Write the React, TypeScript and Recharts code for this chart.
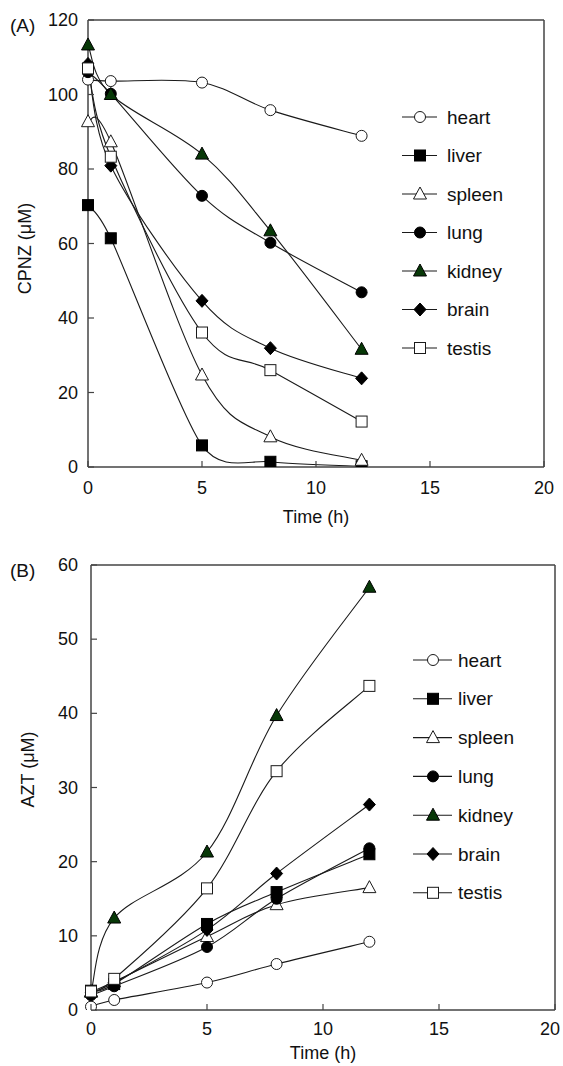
import React from 'react';
import { LineChart, Line, XAxis, YAxis, ReferenceLine, Legend } from 'recharts';

// ---------- data ----------
const times = [0, 1, 5, 8, 12];
const tissues = ['heart', 'liver', 'spleen', 'lung', 'kidney', 'brain', 'testis'];
const shapes = ['circleOpen', 'squareFilled', 'triangleOpen', 'circleFilled', 'triangleGreen', 'diamondFilled', 'squareOpen'];

const xTicks = [0, 5, 10, 15, 20];
const yTicksA = [0, 20, 40, 60, 80, 100, 120];
const yTicksB = [0, 10, 20, 30, 40, 50, 60];

// (A) CPNZ (µM)
const cpnzHeart = [104.0, 103.6, 103.2, 95.8, 88.9];
const cpnzLiver = [70.3, 61.4, 5.8, 1.4, 0.2];
const cpnzSpleen = [92.7, 87.3, 24.7, 8.1, 1.8];
const cpnzLung = [106.0, 100.2, 72.8, 60.2, 46.9];
const cpnzKidney = [113.3, 100.0, 84.0, 63.4, 31.6];
const cpnzBrain = [108.2, 80.9, 44.6, 31.9, 23.8];
const cpnzTestis = [107.0, 83.3, 36.1, 26.0, 12.2];

// (B) AZT (µM)
const aztHeart = [0.45, 1.35, 3.7, 6.2, 9.2];
const aztLiver = [2.6, 3.5, 11.6, 15.9, 21.0];
const aztSpleen = [2.5, 3.8, 9.9, 14.2, 16.5];
const aztLung = [2.0, 3.2, 8.5, 15.0, 21.8];
const aztKidney = [2.4, 12.4, 21.3, 39.7, 57.0];
const aztBrain = [2.3, 3.7, 10.8, 18.4, 27.7];
const aztTestis = [2.5, 4.2, 16.4, 32.2, 43.7];

const seriesA = [cpnzHeart, cpnzLiver, cpnzSpleen, cpnzLung, cpnzKidney, cpnzBrain, cpnzTestis];
const seriesB = [aztHeart, aztLiver, aztSpleen, aztLung, aztKidney, aztBrain, aztTestis];

const buildRows = (series: number[][]) =>
  times.map((t, i) => {
    const row: any = { time: t };
    tissues.forEach((name, k) => {
      row[name] = series[k][i];
    });
    return row;
  });

const dataA = buildRows(seriesA);
const dataB = buildRows(seriesB);

// ---------- styles ----------
const FONT = '"Liberation Sans", Arial, sans-serif';
const INK = '#1a1a1a';
const AXIS = '#444';
const GREEN = '#073807';

// Excel-like smoothed curve (Catmull-Rom through points)
const makeSmooth = (k: number) =>
  function smoothCurve(context: any) {
    let pts: number[][] = [];
    return {
      areaStart() {},
      areaEnd() {},
      lineStart() {
        pts = [];
      },
      point(x: number, y: number) {
        pts.push([+x, +y]);
      },
      lineEnd() {
        const n = pts.length;
        if (!n) return;
        context.moveTo(pts[0][0], pts[0][1]);
        for (let i = 0; i < n - 1; i++) {
          const p0 = pts[Math.max(i - 1, 0)];
          const p1 = pts[i];
          const p2 = pts[i + 1];
          const p3 = pts[Math.min(i + 2, n - 1)];
          context.bezierCurveTo(
            p1[0] + (p2[0] - p0[0]) / k,
            p1[1] + (p2[1] - p0[1]) / k,
            p2[0] - (p3[0] - p1[0]) / k,
            p2[1] - (p3[1] - p1[1]) / k,
            p2[0],
            p2[1]
          );
        }
      },
    };
  };
const smooth6 = makeSmooth(6);
const smooth8 = makeSmooth(8);

const Marker = ({ shape, cx, cy }: { shape: string; cx: number; cy: number }) => {
  const sw = 1;
  switch (shape) {
    case 'circleOpen':
      return <circle cx={cx} cy={cy} r={5.5} fill="#fff" stroke={INK} strokeWidth={sw} />;
    case 'circleFilled':
      return <circle cx={cx} cy={cy} r={5.5} fill="#000" stroke="#000" strokeWidth={sw} />;
    case 'squareFilled':
      return <rect x={cx - 5.5} y={cy - 5.5} width={11} height={11} fill="#000" stroke="#000" strokeWidth={sw} />;
    case 'squareOpen':
      return <rect x={cx - 5.5} y={cy - 5.5} width={11} height={11} fill="#fff" stroke={INK} strokeWidth={sw} />;
    case 'triangleOpen':
      return (
        <polygon
          points={`${cx},${cy - 7} ${cx - 6.5},${cy + 5} ${cx + 6.5},${cy + 5}`}
          fill="#fff"
          stroke={INK}
          strokeWidth={sw}
        />
      );
    case 'triangleGreen':
      return (
        <polygon
          points={`${cx},${cy - 7} ${cx - 6.5},${cy + 5} ${cx + 6.5},${cy + 5}`}
          fill={GREEN}
          stroke="#000"
          strokeWidth={sw}
        />
      );
    case 'diamondFilled':
      return (
        <polygon
          points={`${cx},${cy - 6.5} ${cx + 6},${cy} ${cx},${cy + 6.5} ${cx - 6},${cy}`}
          fill="#000"
          stroke="#000"
          strokeWidth={sw}
        />
      );
    default:
      return null;
  }
};

const makeXTick = (labelDy: number, maxX: number) => (props: any) => {
  const { x, y, payload } = props;
  const tx = Math.min(x, maxX);
  return (
    <g>
      <line x1={x} x2={x} y1={y} y2={y - 6} stroke={AXIS} strokeWidth={1.2} />
      <text x={tx} y={y + labelDy} textAnchor="middle" dominantBaseline="central" fontFamily={FONT} fontSize={18} fill="#111">
        {payload.value}
      </text>
    </g>
  );
};

const makeYTick = (gap: number) => (props: any) => {
  const { x, y, payload } = props;
  return (
    <g>
      <line x1={x} x2={x + 6} y1={y} y2={y} stroke={AXIS} strokeWidth={1.2} />
      <text x={x - gap} y={y} textAnchor="end" dominantBaseline="central" fontFamily={FONT} fontSize={18} fill="#111">
        {payload.value}
      </text>
    </g>
  );
};

const makeYTitle = (title: string, panel: string, dy: number) => (props: any) => {
  const vb = props.viewBox || {};
  const cx = vb.x - 3;
  const cy = vb.y + vb.height / 2 + dy;
  return (
    <g>
      <text
        x={cx}
        y={cy}
        transform={`rotate(-90 ${cx} ${cy})`}
        textAnchor="middle"
        dominantBaseline="central"
        fontFamily={FONT}
        fontSize={18}
        fill="#111"
      >
        {title}
      </text>
      <text x={10} y={vb.y + 5} textAnchor="start" dominantBaseline="central" fontFamily={FONT} fontSize={19} fill="#111">
        {panel}
      </text>
    </g>
  );
};

const makeXTitle = (title: string, dy: number) => (props: any) => {
  const vb = props.viewBox || {};
  return (
    <text
      x={vb.x + vb.width / 2}
      y={vb.y + dy}
      textAnchor="middle"
      dominantBaseline="central"
      fontFamily={FONT}
      fontSize={18}
      fill="#111"
    >
      {title}
    </text>
  );
};

const makeLegend = (lx1: number, lx2: number, mx: number, tx: number, y0: number, gap: number) => () => (
  <svg width={150} height={290} style={{ display: 'block', overflow: 'visible' }}>
    {tissues.map((t, i) => {
      const y = y0 + i * gap;
      return (
        <g key={t}>
          <line x1={lx1} x2={lx2} y1={y} y2={y} stroke={INK} strokeWidth={1.1} />
          <Marker shape={shapes[i]} cx={mx} cy={y} />
          <text x={tx} y={y} dominantBaseline="central" fontFamily={FONT} fontSize={19} fill="#111">
            {t}
          </text>
        </g>
      );
    })}
  </svg>
);

type PanelProps = {
  data: any[];
  width: number;
  height: number;
  margin: any;
  yDomain: number[];
  yTicks: number[];
  yTitle: string;
  panel: string;
  yTitleDy: number;
  yGap: number;
  xLabelDy: number;
  xTitleDy: number;
  legend: () => React.ReactElement;
  legendPos: { left: number; top: number };
  curves: any[];
};

const Panel = (p: PanelProps) => (
  <LineChart width={p.width} height={p.height} data={p.data} margin={p.margin}>
    <XAxis
      dataKey="time"
      type="number"
      domain={[0, 20]}
      ticks={xTicks}
      tickSize={0}
      tickMargin={0}
      tickLine={false}
      tick={makeXTick(p.xLabelDy, p.width - 13)}
      axisLine={{ stroke: AXIS, strokeWidth: 1.5 }}
      height={40}
      interval={0}
      allowDecimals={false}
      label={makeXTitle('Time (h)', p.xTitleDy)}
    />
    <YAxis
      type="number"
      domain={p.yDomain}
      ticks={p.yTicks}
      tickSize={0}
      tickMargin={0}
      tickLine={false}
      tick={makeYTick(p.yGap)}
      axisLine={{ stroke: AXIS, strokeWidth: 1.5 }}
      width={60}
      interval={0}
      allowDataOverflow
      label={makeYTitle(p.yTitle, p.panel, p.yTitleDy)}
    />
    <ReferenceLine y={p.yDomain[1]} stroke={AXIS} strokeWidth={1.5} />
    <ReferenceLine x={20} stroke={AXIS} strokeWidth={1.5} />
    <Legend
      layout="horizontal"
      align="center"
      verticalAlign="middle"
      content={p.legend}
      wrapperStyle={{ left: p.legendPos.left, top: p.legendPos.top, width: 150, height: 290 }}
    />
    {tissues.map((name, k) => (
      <Line
        key={name}
        dataKey={name}
        type={p.curves[k]}
        stroke={INK}
        strokeWidth={1.1}
        isAnimationActive={false}
        activeDot={false}
        legendType="none"
        dot={(d: any) => <Marker key={`${name}-${d.index}`} shape={shapes[k]} cx={d.cx} cy={d.cy} />}
      />
    ))}
  </LineChart>
);

export default function App() {
  return (
    <div style={{ position: 'absolute', left: 0, top: 0, width: 563, height: 1066, background: '#fff' }}>
      <div style={{ position: 'absolute', left: 0, top: 0 }}>
        <Panel
          data={dataA}
          width={563}
          height={530}
          margin={{ top: 20, right: 19, left: 28, bottom: 23 }}
          yDomain={[0, 120]}
          yTicks={yTicksA}
          yTitle="CPNZ (μM)"
          panel="(A)"
          yTitleDy={5}
          yGap={10}
          xLabelDy={21}
          xTitleDy={50}
          legend={makeLegend(7, 42, 25, 52, 22, 38.5)}
          legendPos={{ left: 395, top: 95 }}
          curves={[smooth6, smooth8, smooth6, smooth6, smooth6, smooth6, smooth6]}
        />
      </div>
      <div style={{ position: 'absolute', left: 0, top: 540 }}>
        <Panel
          data={dataB}
          width={563}
          height={526}
          margin={{ top: 25, right: 8, left: 31, bottom: 16 }}
          yDomain={[0, 60]}
          yTicks={yTicksB}
          yTitle="AZT (μM)"
          panel="(B)"
          yTitleDy={-18}
          yGap={13}
          xLabelDy={19}
          xTitleDy={43}
          legend={makeLegend(8, 47, 28, 53, 22, 38.8)}
          legendPos={{ left: 405, top: 98 }}
          curves={[smooth6, smooth6, smooth6, smooth6, smooth6, smooth6, smooth6]}
        />
      </div>
    </div>
  );
}
